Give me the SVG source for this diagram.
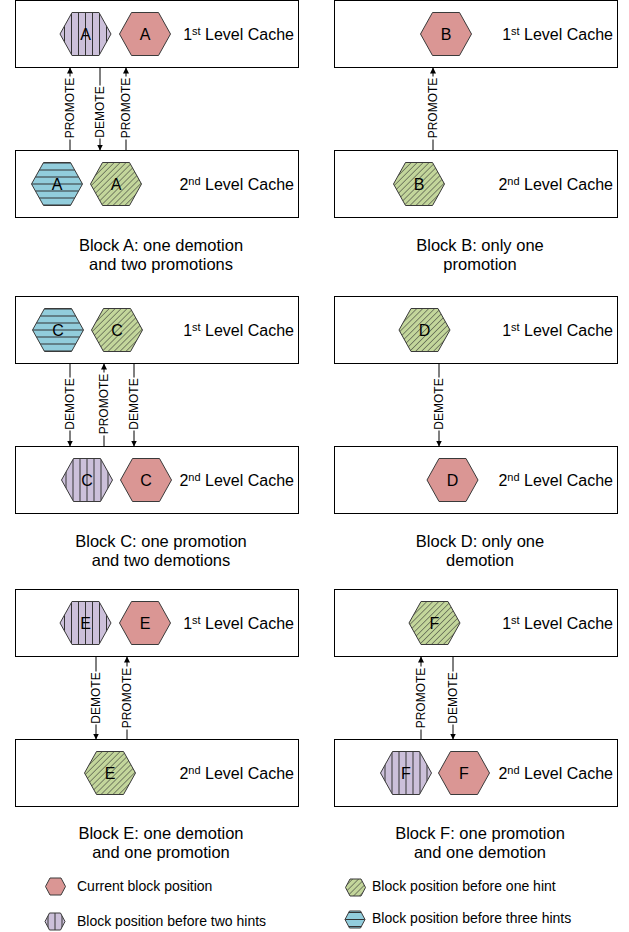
<svg xmlns="http://www.w3.org/2000/svg" xmlns:xlink="http://www.w3.org/1999/xlink" width="629" height="932" viewBox="0 0 629 932">
  <style>
    text { font-family: "Liberation Sans", Arial, sans-serif; fill: #000; }
    .box { fill: #fff; stroke: #000; stroke-width: 1; }
    .lvl { font-size: 16px; text-anchor: end; }
    .sup { font-size: 11px; }
    .hexlbl { font-size: 16px; text-anchor: middle; }
    .cap { font-size: 16.5px; text-anchor: middle; }
    .leg { font-size: 14px; }
    .conn { stroke: #000; stroke-width: 1; fill: none; marker-end: url(#arrow); }
    .tag { font-size: 12px; text-anchor: middle; dominant-baseline: central; }
    .tagbg { fill: #fff; }
  </style>
  <defs>
    <marker id="arrow" markerUnits="userSpaceOnUse" markerWidth="7" markerHeight="7" refX="6" refY="3" orient="auto">
      <path d="M0,0 L6,3 L0,6 z" fill="#000"/>
    </marker>
    <!-- one hint before: diagonal hatch on green -->
    <pattern id="pGreen" patternUnits="userSpaceOnUse" width="4.2" height="10" patternTransform="rotate(45)">
      <rect width="4.2" height="10" fill="#C3D69B"/>
      <line x1="0" y1="0" x2="0" y2="10" stroke="#2e2e2e" stroke-width="1"/>
    </pattern>
    <!-- two hints before: vertical stripes on lavender -->
    <pattern id="pLav" patternUnits="userSpaceOnUse" x="-3.5" y="0" width="7" height="10">
      <rect width="7" height="10" fill="#CCC0DA"/>
      <line x1="3.5" y1="0" x2="3.5" y2="10" stroke="#333" stroke-width="1"/>
    </pattern>
    <!-- three hints before: horizontal stripes on blue -->
    <pattern id="pBlue" patternUnits="userSpaceOnUse" x="0" y="-3.5" width="10" height="7">
      <rect width="10" height="7" fill="#92CDDC"/>
      <line x1="0" y1="3.5" x2="10" y2="3.5" stroke="#333" stroke-width="1"/>
    </pattern>
    <polygon id="hex" points="-25.5,0 -13.5,-21.5 13.5,-21.5 25.5,0 13.5,21.5 -13.5,21.5" stroke="#3a3a3a" stroke-width="1"/>
    <polygon id="hexS" points="-10,0 -5.5,-8.5 5.5,-8.5 10,0 5.5,8.5 -5.5,8.5" stroke="#3a3a3a" stroke-width="1"/>
  </defs>

  <!-- cache boxes -->
  <g id="caches">
    <rect class="box" x="15.5" y="0.5" width="283" height="67"/>
    <rect class="box" x="15.5" y="150.5" width="283" height="67"/>
    <rect class="box" x="334.5" y="0.5" width="283" height="67"/>
    <rect class="box" x="334.5" y="150.5" width="283" height="67"/>
    <rect class="box" x="15.5" y="296.5" width="283" height="67"/>
    <rect class="box" x="15.5" y="446.5" width="283" height="67"/>
    <rect class="box" x="334.5" y="296.5" width="283" height="67"/>
    <rect class="box" x="334.5" y="446.5" width="283" height="67"/>
    <rect class="box" x="15.5" y="589.5" width="283" height="67"/>
    <rect class="box" x="15.5" y="739.5" width="283" height="67"/>
    <rect class="box" x="334.5" y="589.5" width="283" height="67"/>
    <rect class="box" x="334.5" y="739.5" width="283" height="67"/>

    <text class="lvl" x="294" y="39.5">1<tspan class="sup" dy="-5">st</tspan><tspan dy="5"> Level Cache</tspan></text>
    <text class="lvl" x="294" y="189.5">2<tspan class="sup" dy="-5">nd</tspan><tspan dy="5"> Level Cache</tspan></text>
    <text class="lvl" x="613" y="39.5">1<tspan class="sup" dy="-5">st</tspan><tspan dy="5"> Level Cache</tspan></text>
    <text class="lvl" x="613" y="189.5">2<tspan class="sup" dy="-5">nd</tspan><tspan dy="5"> Level Cache</tspan></text>
    <text class="lvl" x="294" y="335.5">1<tspan class="sup" dy="-5">st</tspan><tspan dy="5"> Level Cache</tspan></text>
    <text class="lvl" x="294" y="485.5">2<tspan class="sup" dy="-5">nd</tspan><tspan dy="5"> Level Cache</tspan></text>
    <text class="lvl" x="613" y="335.5">1<tspan class="sup" dy="-5">st</tspan><tspan dy="5"> Level Cache</tspan></text>
    <text class="lvl" x="613" y="485.5">2<tspan class="sup" dy="-5">nd</tspan><tspan dy="5"> Level Cache</tspan></text>
    <text class="lvl" x="294" y="628.5">1<tspan class="sup" dy="-5">st</tspan><tspan dy="5"> Level Cache</tspan></text>
    <text class="lvl" x="294" y="778.5">2<tspan class="sup" dy="-5">nd</tspan><tspan dy="5"> Level Cache</tspan></text>
    <text class="lvl" x="613" y="628.5">1<tspan class="sup" dy="-5">st</tspan><tspan dy="5"> Level Cache</tspan></text>
    <text class="lvl" x="613" y="778.5">2<tspan class="sup" dy="-5">nd</tspan><tspan dy="5"> Level Cache</tspan></text>
  </g>

  <!-- connectors: promote points up, demote points down -->
  <g id="connectors">
    <!-- Block A -->
    <line class="conn" x1="70" y1="150.5" x2="70" y2="67.5"/>
    <line class="conn" x1="100" y1="67.5" x2="100" y2="150.5"/>
    <line class="conn" x1="126" y1="150.5" x2="126" y2="67.5"/>
    <!-- Block B -->
    <line class="conn" x1="433" y1="150.5" x2="433" y2="67.5"/>
    <!-- Block C -->
    <line class="conn" x1="70" y1="363.5" x2="70" y2="446.5"/>
    <line class="conn" x1="104" y1="446.5" x2="104" y2="363.5"/>
    <line class="conn" x1="134" y1="363.5" x2="134" y2="446.5"/>
    <!-- Block D -->
    <line class="conn" x1="439" y1="363.5" x2="439" y2="446.5"/>
    <!-- Block E -->
    <line class="conn" x1="96" y1="656.5" x2="96" y2="739.5"/>
    <line class="conn" x1="127" y1="739.5" x2="127" y2="656.5"/>
    <!-- Block F -->
    <line class="conn" x1="421" y1="739.5" x2="421" y2="656.5"/>
    <line class="conn" x1="453" y1="656.5" x2="453" y2="739.5"/>

    <!-- rotated tags -->
    <g transform="translate(70,108) rotate(-90)"><rect class="tagbg" x="-31.5" y="-6" width="63" height="12"/><text class="tag">PROMOTE</text></g>
    <g transform="translate(100,112) rotate(-90)"><rect class="tagbg" x="-26.5" y="-6" width="53" height="12"/><text class="tag">DEMOTE</text></g>
    <g transform="translate(126,108) rotate(-90)"><rect class="tagbg" x="-31.5" y="-6" width="63" height="12"/><text class="tag">PROMOTE</text></g>
    <g transform="translate(433,108) rotate(-90)"><rect class="tagbg" x="-31.5" y="-6" width="63" height="12"/><text class="tag">PROMOTE</text></g>
    <g transform="translate(70,404) rotate(-90)"><rect class="tagbg" x="-26.5" y="-6" width="53" height="12"/><text class="tag">DEMOTE</text></g>
    <g transform="translate(104,404) rotate(-90)"><rect class="tagbg" x="-31.5" y="-6" width="63" height="12"/><text class="tag">PROMOTE</text></g>
    <g transform="translate(134,404) rotate(-90)"><rect class="tagbg" x="-26.5" y="-6" width="53" height="12"/><text class="tag">DEMOTE</text></g>
    <g transform="translate(439,404) rotate(-90)"><rect class="tagbg" x="-26.5" y="-6" width="53" height="12"/><text class="tag">DEMOTE</text></g>
    <g transform="translate(96,698) rotate(-90)"><rect class="tagbg" x="-26.5" y="-6" width="53" height="12"/><text class="tag">DEMOTE</text></g>
    <g transform="translate(127,698) rotate(-90)"><rect class="tagbg" x="-31.5" y="-6" width="63" height="12"/><text class="tag">PROMOTE</text></g>
    <g transform="translate(421,698) rotate(-90)"><rect class="tagbg" x="-31.5" y="-6" width="63" height="12"/><text class="tag">PROMOTE</text></g>
    <g transform="translate(453,698) rotate(-90)"><rect class="tagbg" x="-26.5" y="-6" width="53" height="12"/><text class="tag">DEMOTE</text></g>
  </g>

  <!-- Block A -->
  <g id="a-l1-two" transform="translate(85.5,34)"><use href="#hex" fill="url(#pLav)"/><text class="hexlbl" y="6">A</text></g>
  <g id="a-l1-cur" transform="translate(145,34)"><use href="#hex" fill="#DA9694"/><text class="hexlbl" y="6">A</text></g>
  <g id="a-l2-three" transform="translate(57,184)"><use href="#hex" fill="url(#pBlue)"/><text class="hexlbl" y="6">A</text></g>
  <g id="a-l2-one" transform="translate(116,184)"><use href="#hex" fill="url(#pGreen)"/><text class="hexlbl" y="6">A</text></g>

  <!-- Block B -->
  <g id="b-l1-cur" transform="translate(446,34)"><use href="#hex" fill="#DA9694"/><text class="hexlbl" y="6">B</text></g>
  <g id="b-l2-one" transform="translate(419,184)"><use href="#hex" fill="url(#pGreen)"/><text class="hexlbl" y="6">B</text></g>

  <!-- Block C -->
  <g id="c-l1-three" transform="translate(58,330)"><use href="#hex" fill="url(#pBlue)"/><text class="hexlbl" y="6">C</text></g>
  <g id="c-l1-one" transform="translate(117,330)"><use href="#hex" fill="url(#pGreen)"/><text class="hexlbl" y="6">C</text></g>
  <g id="c-l2-two" transform="translate(87,480)"><use href="#hex" fill="url(#pLav)"/><text class="hexlbl" y="6">C</text></g>
  <g id="c-l2-cur" transform="translate(146,480)"><use href="#hex" fill="#DA9694"/><text class="hexlbl" y="6">C</text></g>

  <!-- Block D -->
  <g id="d-l1-one" transform="translate(424.5,330)"><use href="#hex" fill="url(#pGreen)"/><text class="hexlbl" y="6">D</text></g>
  <g id="d-l2-cur" transform="translate(452.5,480)"><use href="#hex" fill="#DA9694"/><text class="hexlbl" y="6">D</text></g>

  <!-- Block E -->
  <g id="e-l1-two" transform="translate(85.5,623)"><use href="#hex" fill="url(#pLav)"/><text class="hexlbl" y="6">E</text></g>
  <g id="e-l1-cur" transform="translate(145,623)"><use href="#hex" fill="#DA9694"/><text class="hexlbl" y="6">E</text></g>
  <g id="e-l2-one" transform="translate(110,773)"><use href="#hex" fill="url(#pGreen)"/><text class="hexlbl" y="6">E</text></g>

  <!-- Block F -->
  <g id="f-l1-one" transform="translate(434.5,623)"><use href="#hex" fill="url(#pGreen)"/><text class="hexlbl" y="6">F</text></g>
  <g id="f-l2-two" transform="translate(406,773)"><use href="#hex" fill="url(#pLav)"/><text class="hexlbl" y="6">F</text></g>
  <g id="f-l2-cur" transform="translate(464,773)"><use href="#hex" fill="#DA9694"/><text class="hexlbl" y="6">F</text></g>

  <!-- captions -->
  <g id="captions">
    <text class="cap" x="161" y="250.5">Block A: one demotion</text>
    <text class="cap" x="161" y="270">and two promotions</text>
    <text class="cap" x="480" y="250.5">Block B: only one</text>
    <text class="cap" x="480" y="270">promotion</text>
    <text class="cap" x="161" y="546.5">Block C: one promotion</text>
    <text class="cap" x="161" y="566">and two demotions</text>
    <text class="cap" x="480" y="546.5">Block D: only one</text>
    <text class="cap" x="480" y="566">demotion</text>
    <text class="cap" x="161" y="839">Block E: one demotion</text>
    <text class="cap" x="161" y="858">and one promotion</text>
    <text class="cap" x="480" y="839">Block F: one promotion</text>
    <text class="cap" x="480" y="858">and one demotion</text>
  </g>

  <!-- legend -->
  <g id="legend">
    <g transform="translate(55.5,886.5)"><use href="#hexS" fill="#DA9694"/></g>
    <text class="leg" x="77" y="891">Current block position</text>
    <g transform="translate(55,921.5)"><use href="#hexS" fill="url(#pLav)"/></g>
    <text class="leg" x="77" y="926">Block position before two hints</text>
    <g transform="translate(355.5,887.5)"><use href="#hexS" fill="url(#pGreen)"/></g>
    <text class="leg" x="372" y="891">Block position before one hint</text>
    <g transform="translate(355,919.5)"><use href="#hexS" fill="url(#pBlue)"/></g>
    <text class="leg" x="372" y="923">Block position before three hints</text>
  </g>
</svg>
